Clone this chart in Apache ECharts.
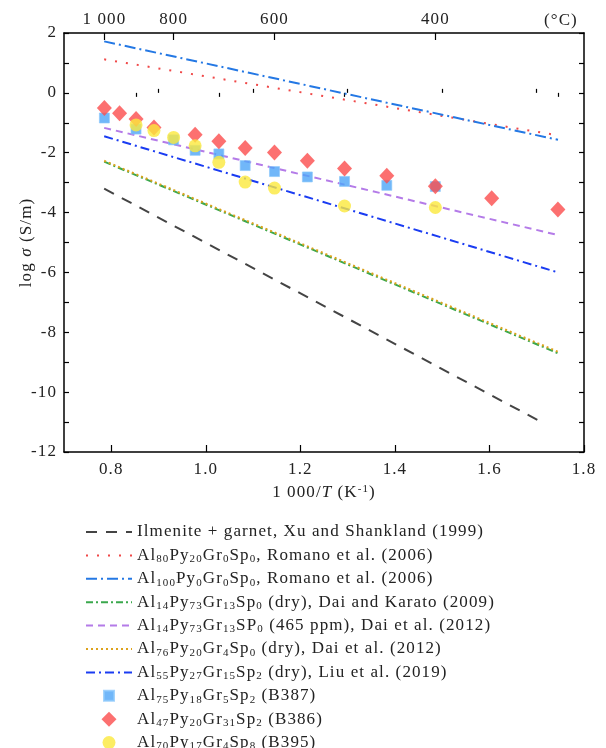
<!DOCTYPE html>
<html>
<head>
<meta charset="utf-8">
<script src="https://cdn.jsdelivr.net/npm/echarts@6/dist/echarts.min.js"></script>
<style>
html,body{margin:0;padding:0;background:#fff;}
#main{width:606px;height:748px;}
</style>
</head>
<body>
<div id="main"></div>
<script>
// ---- Data ----
// temperatures (°C) of the measurement steps; x = 1000/T(K)
const topMajorTempsC = [1000, 800, 600, 400];
const topMajorLabels = ['1 000', '800', '600', '400'];
const topMinorTempsC = [900, 700, 500, 300];
const xTickLabels = [0.8, 1.0, 1.2, 1.4, 1.6, 1.8];
const xMinorTicks = [0.9, 1.1, 1.3, 1.5, 1.7];
const yTickLabels = [2, 0, -2, -4, -6, -8, -10, -12];

// reference lines: [x, log sigma] end points
const lineIlmenite = [[0.785, -3.2], [1.71, -11.0]];
const lineRomano80 = [[0.785, 1.12], [1.745, -1.42]];
const lineRomano100 = [[0.785, 1.72], [1.745, -1.57]];
const lineDaiKarato = [[0.785, -2.3], [1.745, -8.7]];
const lineDai465 = [[0.785, -1.17], [1.745, -4.75]];
const lineDai76 = [[0.785, -2.27], [1.745, -8.65]];
const lineLiu = [[0.785, -1.45], [1.745, -6.0]];

// measured samples: temperature (°C) and log sigma
const b387Temps = [1000, 900, 800, 750, 700, 650, 600, 550, 500, 450, 400];
const b387Vals  = [-0.84, -1.21, -1.57, -1.92, -2.04, -2.43, -2.63, -2.81, -2.96, -3.09, -3.13];
const b386Temps = [1000, 950, 900, 850, 750, 700, 650, 600, 550, 500, 450, 400, 350, 300];
const b386Vals  = [-0.51, -0.68, -0.87, -1.16, -1.40, -1.62, -1.84, -1.99, -2.27, -2.53, -2.77, -3.12, -3.52, -3.90];
const b395Temps = [900, 850, 800, 750, 700, 650, 600, 500, 400];
const b395Vals  = [-1.07, -1.26, -1.49, -1.77, -2.32, -2.98, -3.18, -3.78, -3.83];

const invT = t => 1000 / (t + 273.15);
const pts = (ts, vs) => ts.map((t, i) => [invT(t), vs[i]]);

// letter spacing like the reference typesetting
(function () {
  const orig = HTMLCanvasElement.prototype.getContext;
  HTMLCanvasElement.prototype.getContext = function (type, opts) {
    const ctx = orig.call(this, type, opts);
    if (ctx && type === '2d' && 'letterSpacing' in ctx) ctx.letterSpacing = '1.1px';
    return ctx;
  };
})();

const legendRich = {
  'ilm': 'Ilmenite + garnet, Xu and Shankland (1999)',
  'r80': 'Al{s|80}Py{s|20}Gr{s|0}Sp{s|0}, Romano et al. (2006)',
  'r100': 'Al{s|100}Py{s|0}Gr{s|0}Sp{s|0}, Romano et al. (2006)',
  'dk': 'Al{s|14}Py{s|73}Gr{s|13}Sp{s|0} (dry), Dai and Karato (2009)',
  'd465': 'Al{s|14}Py{s|73}Gr{s|13}SP{s|0} (465 ppm), Dai et al. (2012)',
  'd76': 'Al{s|76}Py{s|20}Gr{s|4}Sp{s|0} (dry), Dai et al. (2012)',
  'liu': 'Al{s|55}Py{s|27}Gr{s|15}Sp{s|2} (dry), Liu et al. (2019)',
  'b387': 'Al{s|75}Py{s|18}Gr{s|5}Sp{s|2} (B387)',
  'b386': 'Al{s|47}Py{s|20}Gr{s|31}Sp{s|2} (B386)',
  'b395': 'Al{s|70}Py{s|17}Gr{s|4}Sp{s|8} (B395)'
};

const FONT = '"Liberation Serif", "DejaVu Serif", serif';
const FS = 17;
const TXT = '#222';
const chart = echarts.init(document.getElementById('main'), null, {renderer: 'canvas'});

function lineSeries(name, data, color, type, width) {
  return {
    name: name, type: 'line', data: data, symbol: 'none', showSymbol: false,
    lineStyle: {color: color, type: type, width: width || 2},
    itemStyle: {color: color}, z: 2, silent: true
  };
}
const hiddenDot = {opacity: 0, color: 'rgba(0,0,0,0)', borderWidth: 0};

const option = {
  animation: false,
  backgroundColor: '#fff',
  textStyle: {fontFamily: FONT},
  grid: {left: 64, right: 22, top: 33, bottom: 296, containLabel: false},
  xAxis: [
    { type: 'value', min: 0.7, max: 1.8, position: 'bottom',
      axisLine: {show: true, onZero: false, lineStyle: {color: '#000', width: 1.5}},
      axisTick: {show: true, inside: true, length: 7, customValues: xTickLabels, lineStyle: {color: '#000', width: 1.2}},
      axisLabel: {show: true, customValues: xTickLabels, margin: 8, fontFamily: FONT, fontSize: FS, color: TXT,
        formatter: v => v.toFixed(1)},
      splitLine: {show: false},
      name: '1 000/{i|T} (K{sup|-1})', nameLocation: 'middle', nameGap: 31, nameMoveOverlap: false,
      nameTextStyle: {fontFamily: FONT, fontSize: FS, color: TXT, lineHeight: 20,
        rich: {i: {fontStyle: 'italic', fontSize: FS, fontFamily: FONT, color: TXT, lineHeight: 20},
               sup: {fontSize: 11, fontFamily: FONT, verticalAlign: 'top', lineHeight: 12, color: TXT}}}
    },
    { type: 'value', min: 0.7, max: 1.8, position: 'bottom',
      axisLine: {show: false}, splitLine: {show: false},
      axisTick: {show: true, inside: true, length: 4, customValues: xMinorTicks, lineStyle: {color: '#000', width: 1.2}},
      axisLabel: {show: false}
    },
    { type: 'value', min: 0.7, max: 1.8, position: 'top',
      axisLine: {show: true, onZero: false, lineStyle: {color: '#000', width: 1.5}},
      splitLine: {show: false},
      axisTick: {show: true, inside: true, length: 7, customValues: topMajorTempsC.map(invT), lineStyle: {color: '#000', width: 1.2}},
      axisLabel: {show: true, customValues: topMajorTempsC.map(invT), margin: 4, fontFamily: FONT, fontSize: FS, color: TXT,
        formatter: function (v) {
          for (let i = 0; i < topMajorTempsC.length; i++) {
            if (Math.abs(invT(topMajorTempsC[i]) - v) < 1e-6) return topMajorLabels[i];
          }
          return '';
        }}
    },
    { type: 'value', min: 0.7, max: 1.8, position: 'top',
      axisLine: {show: false}, splitLine: {show: false},
      axisTick: {show: true, inside: true, length: 4, customValues: topMinorTempsC.map(invT), lineStyle: {color: '#000', width: 1.2}},
      axisLabel: {show: false}
    }
  ],
  yAxis: [
    { type: 'value', min: -12, max: 2, interval: 1, position: 'left',
      axisLine: {show: true, onZero: false, lineStyle: {color: '#000', width: 1.5}},
      axisTick: {show: true, inside: true, length: 5, lineStyle: {color: '#000', width: 1.2}},
      axisLabel: {show: true, margin: 7, fontFamily: FONT, fontSize: FS, color: TXT,
        formatter: v => (yTickLabels.indexOf(v) >= 0 ? String(v) : '')},
      splitLine: {show: false},
      name: 'log {i|σ} (S/m)', nameLocation: 'middle', nameGap: 28, nameRotate: 90, nameMoveOverlap: false,
      nameTextStyle: {fontFamily: FONT, fontSize: FS, color: TXT,
        rich: {i: {fontStyle: 'italic', fontSize: FS, fontFamily: FONT, color: TXT}}}
    },
    { type: 'value', min: -12, max: 2, interval: 1, position: 'right',
      axisLine: {show: true, onZero: false, lineStyle: {color: '#000', width: 1.5}},
      axisTick: {show: true, inside: true, length: 5, lineStyle: {color: '#000', width: 1.2}},
      axisLabel: {show: false}, splitLine: {show: false}
    }
  ],
  legend: {
    orient: 'vertical', left: 80, top: 517, height: 300, itemGap: 3.4, itemWidth: 46, itemHeight: 16,
    symbolKeepAspect: true,
    textStyle: {fontFamily: FONT, fontSize: FS, color: TXT, lineHeight: 20,
      rich: {s: {fontSize: 11, fontFamily: FONT, color: TXT, verticalAlign: 'bottom', lineHeight: 12}}},
    formatter: name => legendRich[name] || name,
    data: [
      {name: 'ilm', itemStyle: hiddenDot},
      {name: 'r80', itemStyle: hiddenDot},
      {name: 'r100', itemStyle: hiddenDot},
      {name: 'dk', itemStyle: hiddenDot},
      {name: 'd465', itemStyle: hiddenDot},
      {name: 'd76', itemStyle: hiddenDot},
      {name: 'liu', itemStyle: hiddenDot},
      {name: 'b387', icon: 'path://M0,0M16,16M3,3L13,3L13,13L3,13Z'},
      {name: 'b386', icon: 'path://M0,0M16,16M8,0.5L15.5,8L8,15.5L0.5,8Z'},
      {name: 'b395', icon: 'path://M0,0M16,16M1.5,8A6.5,6.5,0,1,1,14.5,8A6.5,6.5,0,1,1,1.5,8Z'}
    ]
  },
  graphic: [
    {type: 'text', left: 544, top: 11, style: {text: '(°C)', font: FS + 'px ' + FONT, fill: TXT}}
  ],
  series: [
    lineSeries('ilm', lineIlmenite, '#444444', [11, 9], 2),
    lineSeries('r80', lineRomano80, '#f04848', [2, 9], 2),
    lineSeries('r100', lineRomano100, '#2478e4', [11, 4, 2, 4], 2),
    lineSeries('dk', lineDaiKarato, '#3aa84c', [7, 3, 2, 3], 2),
    lineSeries('d465', lineDai465, '#b47be8', [7, 5], 2),
    lineSeries('d76', lineDai76, '#dca21c', [2, 3], 2),
    lineSeries('liu', lineLiu, '#1a3cf2', [9, 4, 2, 4], 2),
    {name: 'b387', type: 'scatter', data: pts(b387Temps, b387Vals), symbol: 'rect', symbolSize: 10,
      itemStyle: {color: '#4da5f8', borderColor: '#8cc8fb', borderWidth: 0.8}, z: 3},
    {name: 'b386', type: 'scatter', data: pts(b386Temps, b386Vals), symbol: 'diamond', symbolSize: [15, 16],
      itemStyle: {color: '#fb4c4c'}, z: 4},
    {name: 'b395', type: 'scatter', data: pts(b395Temps, b395Vals), symbol: 'circle', symbolSize: 13,
      itemStyle: {color: '#fbe93c'}, z: 5}
  ]
};
chart.setOption(option);
</script>
</body>
</html>
